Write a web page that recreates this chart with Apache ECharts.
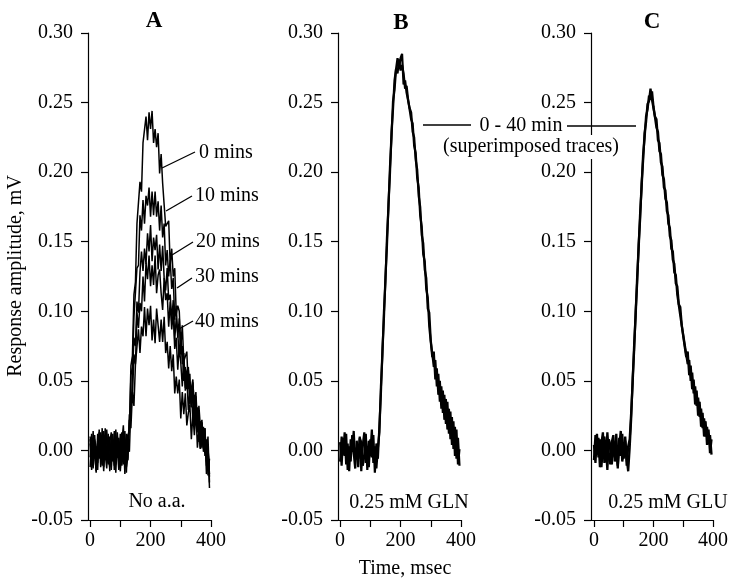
<!DOCTYPE html>
<html><head><meta charset="utf-8">
<script src="https://cdn.jsdelivr.net/npm/echarts@6/dist/echarts.min.js"></script>
<style>html,body{margin:0;padding:0;background:#fff}#c{width:741px;height:587px}</style>
</head><body><div id="c"></div>
<script>
// sample times (ms)
const time_ms = [0,5,10,15,20,25,30,35,40,45,50,55,60,65,70,75,80,85,90,95,100,105,110,115,120,125,130,135,140,145,150,155,160,165,170,175,180,185,190,195,200,205,210,215,220,225,230,235,240,245,250,255,260,265,270,275,280,285,290,295,300,305,310,315,320,325,330,335,340,345,350,355,360,365,370,375,380,385,390,395];

// amplitudes in microvolts (µV); plotted in mV
// Panel A: No a.a.
const A_0min  = [8,-10,14,-6,3,-14,11,-3,16,-12,5,-8,12,-15,7,2,-11,15,-5,9,-13,6,18,-9,4,
  10,16,61,68,112,121,163,164,193,186,221,220,240,223,243,231,244,221,231,218,228,199,213,192,193,161,162,165,133,145,125,131,98,104,100,74,90,64,63,71,44,55,31,49,32,42,19,27,2,20,4,16,-11,2,-27];
const A_10min = [-5,12,-9,4,-16,7,-2,13,-11,6,-7,15,-3,-12,10,-6,14,-9,1,-14,8,-4,11,-17,6,
  11,13,54,60,96,95,131,133,169,158,180,163,183,176,189,168,186,169,186,168,179,158,176,153,163,133,144,125,137,116,124,94,104,81,95,69,75,50,60,44,58,33,44,21,40,24,31,6,21,2,17,-4,8,-18,-6];
const A_20min = [10,-4,-13,8,2,-9,15,-7,4,-15,11,-1,-10,6,13,-8,3,-16,9,-5,12,-11,0,14,-12,
  -5,26,23,54,81,75,107,99,128,143,129,145,134,156,143,162,136,153,144,155,130,148,129,147,124,115,131,108,112,93,108,80,95,84,67,85,62,70,45,57,60,38,38,51,24,36,13,32,16,22,-1,11,-4,10,-23];
const A_30min = [-12,6,9,-3,-15,12,-6,3,-10,14,-2,-13,8,1,-8,12,-14,5,10,-7,-1,13,-10,7,-16,
  11,-1,33,38,69,62,99,88,106,100,125,107,135,123,140,118,133,119,140,113,126,130,113,101,124,108,113,89,107,87,99,73,81,58,75,63,46,66,43,54,29,43,31,42,18,39,14,20,1,20,3,16,-8,3,-19];
const A_40min = [5,-14,2,11,-8,-3,13,-12,7,-5,16,-9,-2,10,-14,4,8,-10,13,-6,-15,9,3,-11,12,
  -7,22,16,42,32,62,63,87,70,89,82,103,82,102,90,104,79,94,77,102,90,78,94,78,96,70,78,59,75,57,69,41,53,41,51,23,42,26,41,18,27,33,8,26,11,29,2,15,1,18,1,10,-17,1,-17];
// Panel B: 0.25 mM GLN (superimposed traces)
const B_trace1 = [6,-11,9,-4,12,-14,3,-8,11,-2,-13,7,-6,10,-15,4,13,-9,1,-12,8,-5,11,-16,5,
  -6,18,41,73,95,125,147,178,199,229,245,266,266,282,275,282,285,263,266,257,258,246,243,229,225,209,202,183,175,155,149,130,124,102,99,79,79,60,65,46,55,35,46,27,40,19,35,12,28,4,21,-4,15,-10,1];
const B_trace2 = [-8,10,-3,13,-10,5,-15,8,-1,14,-7,2,-12,9,6,-11,-4,12,-14,7,-2,15,-9,3,-13,
  2,13,46,68,100,121,153,174,204,224,251,259,274,271,281,273,277,271,260,262,252,251,238,235,219,214,196,189,169,161,141,136,116,110,89,88,67,71,51,59,40,50,30,43,22,37,15,30,8,24,1,17,-6,9,-11];
// Panel C: 0.25 mM GLU (superimposed traces)
const C_trace1 = [4,-9,12,-5,8,-12,2,10,-7,13,-3,-10,6,11,-8,1,-13,9,-4,12,-6,7,-11,3,
  8,27,48,76,96,124,144,170,188,212,224,240,245,255,252,258,
  247,246,232,229,215,213,198,195,181,178,163,160,145,143,128,126,112,111,97,96,82,83,67,71,54,61,44,51,33,43,25,35,17,27,10,21,4,15,-2,8];
const C_trace2 = [-7,11,-3,9,-12,5,13,-9,2,-14,8,4,-10,7,-5,12,-11,3,14,-8,-2,10,-6,-15,
  2,23,52,72,100,120,148,166,192,208,228,236,249,251,260,252,
  253,240,238,223,221,207,204,189,187,172,169,154,151,137,134,120,118,105,103,90,89,76,76,62,65,50,56,41,46,32,38,24,30,16,23,10,17,5,11,-3];

const panelTitles = ['A','B','C'];
const panelLabels = ['No a.a.','0.25 mM GLN','0.25 mM GLU'];
const traceLabelsA = ['0 mins','10 mins','20 mins','30 mins','40 mins'];
const xTickValues = [0,100,200,300,400];
const xLabelValues = [0,200,400];
const yRange = [-0.05, 0.30];
const yStep = 0.05;

const FONT = 'Liberation Serif';
const chart = echarts.init(document.getElementById('c'), null, {renderer:'canvas'});

const gridDefs = [
  {left:88, top:33, width:123, height:487, xmin:-7},
  {left:338, top:33, width:123, height:487, xmin:-7},
  {left:591, top:33, width:122, height:487, xmin:-10}
];
const grids = gridDefs.map(g => ({left:g.left, top:g.top, width:g.width, height:g.height, outerBoundsMode:'none', containLabel:false}));
const xAxes = gridDefs.map((g,i) => ({
  type:'value', gridIndex:i, min:g.xmin, max:400,
  axisLine:{show:true, onZero:false, lineStyle:{color:'#000', width:1.2}},
  axisTick:{show:true, inside:false, length:7, customValues:xTickValues, lineStyle:{color:'#000', width:1.2}},
  axisLabel:{customValues:xLabelValues, color:'#000', fontFamily:FONT, fontSize:20, margin:11},
  splitLine:{show:false}
}));
const yAxes = gridDefs.map((g,i) => ({
  type:'value', gridIndex:i, min:yRange[0], max:yRange[1], interval:yStep,
  axisLine:{show:true, onZero:false, lineStyle:{color:'#000', width:1.2}},
  axisTick:{show:true, inside:false, length:7, lineStyle:{color:'#000', width:1.2}},
  axisLabel:{color:'#000', fontFamily:FONT, fontSize:20, margin:15,
    formatter: v => (Math.abs(v) < 1e-9 ? 0 : v).toFixed(2)},
  splitLine:{show:false}
}));

function mk(arr, gi, w) {
  return {
    type:'line', xAxisIndex:gi, yAxisIndex:gi, symbol:'none', silent:true,
    data: time_ms.map((t,i) => [t, arr[i]/1000]),
    lineStyle:{color:'#000', width:w}, z:3
  };
}
const series = [
  mk(A_0min,0,1.5), mk(A_10min,0,1.5), mk(A_20min,0,1.5), mk(A_30min,0,1.5), mk(A_40min,0,1.5),
  mk(B_trace1,1,2.2), mk(B_trace2,1,2.2),
  mk(C_trace1,2,2.3), mk(C_trace2,2,2.3)
];

function txt(s, x, y, size, opts) {
  opts = opts || {};
  return {type:'text', x:x, y:y, z:100, rotation:opts.rot||0,
    style:{text:s, font:(opts.bold?'bold ':'') + size + 'px "' + FONT + '"', fill:'#000',
      textAlign:opts.align||'center', textVerticalAlign:'middle',
      backgroundColor:opts.bg, padding:opts.pad}};
}
function ln(x1,y1,x2,y2) {
  return {type:'line', z:100, shape:{x1:x1,y1:y1,x2:x2,y2:y2}, style:{stroke:'#000', lineWidth:1.3}};
}
const titlePos = [[154,21],[401,23],[652,22]];
const labelPos = [[157,502],[409,503],[668,503]];
const leaderA = [[162,168,195,152],[166,211,192,196],[172,255,193,242],[177,288,192,278],[179,329,193,321]];
const textA = [[199,153],[195,196],[196,242],[195,277],[195,322]];

const graphic = [];
panelTitles.forEach((t,i) => graphic.push(txt(t, titlePos[i][0], titlePos[i][1], 23, {bold:true})));
panelLabels.forEach((t,i) => graphic.push(txt(t, labelPos[i][0], labelPos[i][1], 20)));
traceLabelsA.forEach((t,i) => {
  const l = leaderA[i];
  graphic.push(ln(l[0],l[1],l[2],l[3]));
  graphic.push(txt(t, textA[i][0], textA[i][1], 20, {align:'left'}));
});
graphic.push(txt('Response amplitude, mV', 16, 276, 20, {rot:Math.PI/2}));
graphic.push(txt('Time, msec', 405, 569, 20));
graphic.push(ln(423,125,471,125));
graphic.push(ln(567,126,636,126));
graphic.push(txt('0 - 40 min', 521, 126, 20));
graphic.push(txt('(superimposed traces)', 531, 147, 20, {bg:'#fff', pad:[2,0]}));

chart.setOption({
  animation:false,
  backgroundColor:'#fff',
  grid:grids, xAxis:xAxes, yAxis:yAxes, series:series, graphic:graphic
});
</script></body></html>
